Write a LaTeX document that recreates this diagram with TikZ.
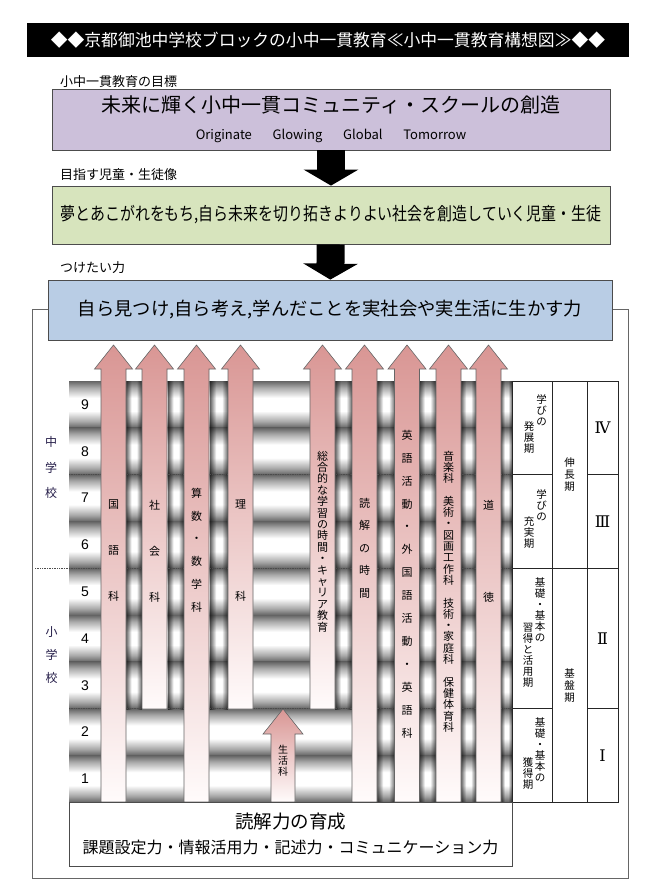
\documentclass[tikz,border=0pt]{standalone}
\usepackage{fontspec}
\setmainfont{Noto Sans CJK JP}
\newfontfamily\numfont{Liberation Sans}
\newfontfamily\romfont{DejaVu Serif}
\usepackage{xcolor}
\usepackage{graphicx}
\usepackage{tikz}
\usetikzlibrary{arrows.meta}

\definecolor{goalpurple}{RGB}{204,192,218}
\definecolor{childgreen}{RGB}{215,228,189}
\definecolor{powerblue}{RGB}{185,205,229}
\definecolor{subjpink}{RGB}{217,150,148}
\definecolor{subjwhite}{RGB}{255,251,251}
\definecolor{bandgray}{RGB}{100,100,100}
\definecolor{bandmid}{RGB}{170,170,170}
\definecolor{schoolnavy}{RGB}{36,28,72}

% grade bands and the narrow gaps between the subject arrows
\pgfdeclareverticalshading{band}{100bp}{color(0bp)=(bandgray); color(25bp)=(bandgray); color(32bp)=(bandmid); color(43bp)=(white); color(57bp)=(white); color(68bp)=(bandmid); color(75bp)=(bandgray); color(100bp)=(bandgray)}
\pgfdeclarehorizontalshading{gapshade}{100bp}{color(0bp)=(bandgray); color(25bp)=(bandgray); color(42bp)=(white); color(58bp)=(white); color(75bp)=(bandgray); color(100bp)=(bandgray)}

% vertical (tate) text: one character per line
\makeatletter
\newcommand\tate[2][12pt]{\vbox{\baselineskip=#1\relax\lineskiplimit=-20pt\lineskip=0pt
  \@tfor\tch:=#2\do{\hbox to 1.1em{\hss\tch\hss}}}}
\makeatother

\begin{document}
\begin{tikzpicture}[x=1pt, y=-1pt,
  box/.style={rectangle, draw=black!70, line width=0.8pt, minimum width=558pt, minimum height=60pt, align=center},
  lbl/.style={anchor=west, font=\fontsize{13}{13}\selectfont},
  bigarr/.style={line width=28pt, -{Triangle[width=54pt, length=16pt]}},
  subjarr/.style={draw=black!60, line width=0.6pt, top color=subjpink, bottom color=subjwhite},
  subj/.style={font=\fontsize{11}{11}\selectfont},
  cell/.style={font=\fontsize{10.5}{11}\selectfont},
  grade/.style={font=\numfont\fontsize{14}{14}\selectfont},
  roman/.style={font=\romfont\fontsize{16}{16}\selectfont},
  sep/.style={densely dotted, black!70, line width=0.7pt},
  tbl/.style={black!85, line width=0.8pt},
  every node/.style={inner sep=0pt}
]
\useasboundingbox[fill=white] (0,0) rectangle (645,884);

% Outer frame behind the lower part
\draw[black!60, line width=0.8pt] (32,309) rectangle (628,878);

% Title bar
\node[fill=black, text=white, minimum width=602pt, minimum height=34pt, font=\fontsize{16.8}{17}\selectfont] (title) at (328,40) {◆◆京都御池中学校ブロックの小中一貫教育≪小中一貫教育構想図≫◆◆};

% Goal
\node[lbl] (goallbl) at (60,82) {小中一貫教育の目標};
\node[box, fill=goalpurple, minimum height=61pt, font=\fontsize{13}{27}\selectfont] (goal) at (331,119.5) {{\fontsize{20}{27}\selectfont 未来に輝く小中一貫コミュニティ・スクールの創造}\\Originate\hspace{1.6em}Glowing\hspace{1.6em}Global\hspace{1.6em}Tomorrow};

% Aimed children
\node[lbl] (childlbl) at (60,175) {目指す児童・生徒像};
\node[box, fill=childgreen, minimum height=58pt, font=\fontsize{18}{18}\selectfont] (child) at (331,215) {\scalebox{0.83}[1]{夢とあこがれをもち,自ら未来を切り拓きよりよい社会を創造していく児童・生徒}};
\draw[bigarr] (goal) -- (child);

% Abilities
\node[lbl] (powerlbl) at (60,268) {つけたい力};
\node[box, fill=powerblue, minimum width=564pt, font=\fontsize{18.3}{18}\selectfont] (power) at (330,310) {自ら見つけ,自ら考え,学んだことを実社会や実生活に生かす力};
\draw[bigarr] (child) -- (power);

% Grade bands
\foreach \r in {0,...,8}
  \shade[shading=band] (69,{381+46.8*\r}) rectangle (512,{381+46.8*(\r+1)});
\begin{scope}[blend mode=multiply]
\foreach \a/\b/\c in {126/142/709, 168/184/709, 210/228/709, 335/352/709, 377/395/802, 419/436/802, 461/476/802, 501/512/802}
  \shade[shading=gapshade] (\a,381) rectangle (\b,\c);
\end{scope}
\draw[sep] (69,474.6) -- (512,474.6);
\draw[sep] (35,568.2) -- (512,568.2);
\draw[sep] (69,708.6) -- (512,708.6);

% Subject arrows
\foreach \xl/\yb in {101/802, 142/709, 184/802, 228/709, 310/709, 352/802, 394.5/802, 436/802, 476/802}
  \path[subjarr] (\xl,\yb) -- (\xl,369) -- ({\xl-6.5},369) -- ({\xl+12.5},345) -- ({\xl+31.5},369) -- ({\xl+25},369) -- ({\xl+25},\yb) -- cycle;
\path[subjarr] (271,802) -- (271,734) -- (263,734) -- (283,709) -- (303,734) -- (295,734) -- (295,802) -- cycle;

\node[subj] (kokugo) at (113.5,551) {\tate[46pt]{国語科}};
\node[subj] (shakai) at (154.5,551) {\tate[46pt]{社会科}};
\node[subj] (sansu) at (196.5,550) {\tate[22.8pt]{算数・数学科}};
\node[subj] (rika) at (240.5,551) {\tate[92pt]{理科}};
\node[subj] (sogo) at (322.5,541.5) {\tate[11.4pt]{総合的な学習の時間・キャリア教育}};
\node[subj] (dokkai) at (364.5,548) {\tate[22.5pt]{読解の時間}};
\node[subj] (eigo) at (407,584) {\tate[22.9pt]{英語活動・外国語活動・英語科}};
\node[subj] (geijutsu) at (448.5,591.5) {\tate[11.3pt]{音楽科　美術・図画工作科　技術・家庭科　保健体育科}};
\node[subj] (dotoku) at (488.5,551) {\tate[92pt]{道徳}};
\node[font=\fontsize{10}{10}\selectfont] (seikatsu) at (283,761) {\tate[11pt]{生活科}};

% School levels and grades
\node[font=\fontsize{12}{12}\selectfont, text=schoolnavy] (jhs) at (51,467.5) {\tate[25.5pt]{中学校}};
\node[font=\fontsize{12}{12}\selectfont, text=schoolnavy] (es) at (51.5,655) {\tate[23pt]{小学校}};
\foreach \g in {1,...,9}
  \node[grade] (g\g) at (85,{381+46.8*(9-\g)+23.4}) {\g};

% Stage table
\fill[white] (512,381) rectangle (618,802);
\draw[tbl] (512,381) rectangle (618,802);
\draw[tbl] (552,381) -- (552,802);
\draw[tbl] (587,381) -- (587,802);
\draw[tbl] (512,474.6) -- (552,474.6) (587,474.6) -- (618,474.6);
\draw[tbl] (512,568.2) -- (618,568.2);
\draw[tbl] (512,708.6) -- (552,708.6) (587,708.6) -- (618,708.6);

\node[cell] (hatten1) at (541.5,410.5) {\tate[11pt]{学びの}};
\node[cell] (hatten2) at (529,437.5) {\tate[11pt]{発展期}};
\node[cell] (juji1) at (541.5,505) {\tate[11pt]{学びの}};
\node[cell] (juji2) at (529,533) {\tate[11pt]{充実期}};
\node[cell] (shutoku1) at (540,610) {\tate[11pt]{基礎・基本の}};
\node[cell] (shutoku2) at (528,655) {\tate[11pt]{習得と活用期}};
\node[cell] (kakutoku1) at (540,750) {\tate[11pt]{基礎・基本の}};
\node[cell] (kakutoku2) at (528,774) {\tate[11pt]{獲得期}};
\node[cell] (shincho) at (569.5,475) {\tate[12pt]{伸長期}};
\node[cell] (kiban) at (569.5,686) {\tate[12pt]{基盤期}};
\node[roman] (st4) at (602.5,428) {Ⅳ};
\node[roman] (st3) at (602.5,521.5) {Ⅲ};
\node[roman] (st2) at (602.5,639) {Ⅱ};
\node[roman] (st1) at (602.5,756) {Ⅰ};

% Reading
\node[rectangle, draw=black!70, line width=0.8pt, fill=white, minimum width=443pt, minimum height=64pt, align=center, font=\fontsize{16}{25}\selectfont] (reading) at (290.5,834) {{\fontsize{18.5}{25}\selectfont 読解力の育成}\\課題設定力・情報活用力・記述力・コミュニケーション力};

\end{tikzpicture}
\end{document}
